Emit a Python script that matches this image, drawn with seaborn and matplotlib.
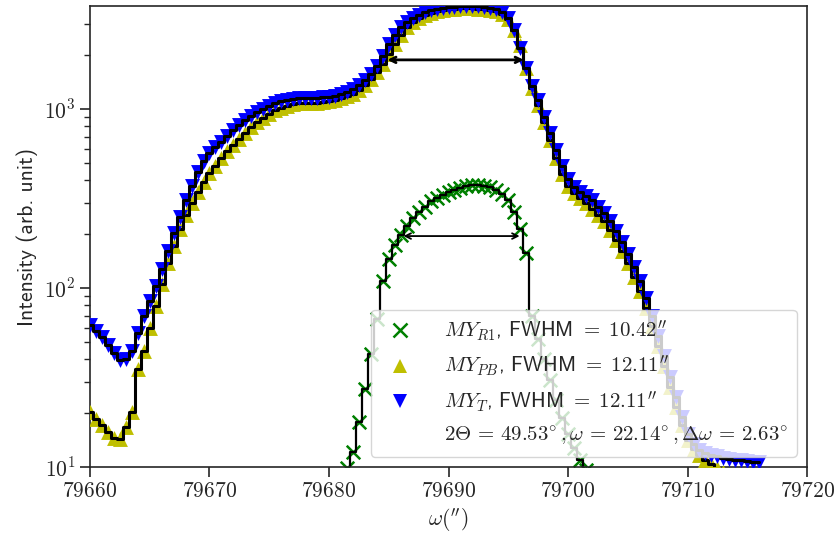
import numpy as np
import pandas as pd
import matplotlib
matplotlib.use('Agg')
import matplotlib.pyplot as plt
from matplotlib.lines import Line2D
from matplotlib.ticker import FuncFormatter, LogLocator, NullFormatter
import seaborn as sns

# omega grid (arcsec) and intensities
omega_T = [79660.0, 79660.5, 79661.0, 79661.5, 79662.0, 79662.5, 79663.0, 79663.5, 79664.0, 79664.5,
           79665.0, 79665.5, 79666.0, 79666.5, 79667.0, 79667.5, 79668.0, 79668.5, 79669.0, 79669.5,
           79670.0, 79670.5, 79671.0, 79671.5, 79672.0, 79672.5, 79673.0, 79673.5, 79674.0, 79674.5,
           79675.0, 79675.5, 79676.0, 79676.5, 79677.0, 79677.5, 79678.0, 79678.5, 79679.0, 79679.5,
           79680.0, 79680.5, 79681.0, 79681.5, 79682.0, 79682.5, 79683.0, 79683.5, 79684.0, 79684.5,
           79685.0, 79685.5, 79686.0, 79686.5, 79687.0, 79687.5, 79688.0, 79688.5, 79689.0, 79689.5,
           79690.0, 79690.5, 79691.0, 79691.5, 79692.0, 79692.5, 79693.0, 79693.5, 79694.0, 79694.5,
           79695.0, 79695.5, 79696.0, 79696.5, 79697.0, 79697.5, 79698.0, 79698.5, 79699.0, 79699.5,
           79700.0, 79700.5, 79701.0, 79701.5, 79702.0, 79702.5, 79703.0, 79703.5, 79704.0, 79704.5,
           79705.0, 79705.5, 79706.0, 79706.5, 79707.0, 79707.5, 79708.0, 79708.5, 79709.0, 79709.5,
           79710.0, 79710.5, 79711.0, 79711.5, 79712.0, 79712.5, 79713.0, 79713.5, 79714.0, 79714.5,
           79715.0, 79715.5, 79716.0]
inten_T = [61.9, 57.3, 53.0, 47.8, 43.1, 39.4, 39.9, 44.3, 55.9, 69.6,
           84.5, 102.6, 127.9, 161.4, 203.7, 250.6, 308.2, 369.3, 442.6, 510.5,
           565.9, 611.6, 652.5, 705.2, 762.1, 813.1, 867.4, 913.3, 962.0, 1000,
           1040, 1081, 1109, 1123, 1138, 1153, 1150, 1155, 1152, 1168,
           1166, 1183, 1215, 1246, 1296, 1364, 1455, 1573, 1744, 1985,
           2318, 2604, 2852, 3042, 3203, 3330, 3462, 3553, 3599, 3646,
           3694, 3700, 3741, 3738, 3745, 3740, 3694, 3646, 3599, 3462,
           3203, 2778, 2201, 1700, 1346, 1123, 902, 733, 588.5, 478.4,
           404.4, 364.6, 341.7, 324.5, 308.2, 285.1, 263.8, 237.9, 209.0, 181.3,
           155.2, 131.2, 109.5, 87.8, 69.6, 53.7, 41.5, 32.0, 24.7, 19.1,
           15.3, 13.5, 12.4, 12.0, 11.7, 11.5, 11.3, 11.1, 11.0, 10.9,
           10.8, 10.7, 10.6]

omega_PB = [79660.0, 79660.5, 79661.0, 79661.5, 79662.0, 79662.5, 79663.0, 79663.5, 79664.0, 79664.5,
            79665.0, 79665.5, 79666.0, 79666.5, 79667.0, 79667.5, 79668.0, 79668.5, 79669.0, 79669.5,
            79670.0, 79670.5, 79671.0, 79671.5, 79672.0, 79672.5, 79673.0, 79673.5, 79674.0, 79674.5,
            79675.0, 79675.5, 79676.0, 79676.5, 79677.0, 79677.5, 79678.0, 79678.5, 79679.0, 79679.5,
            79680.0, 79680.5, 79681.0, 79681.5, 79682.0, 79682.5, 79683.0, 79683.5, 79684.0, 79684.5,
            79685.0, 79685.5, 79686.0, 79686.5, 79687.0, 79687.5, 79688.0, 79688.5, 79689.0, 79689.5,
            79690.0, 79690.5, 79691.0, 79691.5, 79692.0, 79692.5, 79693.0, 79693.5, 79694.0, 79694.5,
            79695.0, 79695.5, 79696.0, 79696.5, 79697.0, 79697.5, 79698.0, 79698.5, 79699.0, 79699.5,
            79700.0, 79700.5, 79701.0, 79701.5, 79702.0, 79702.5, 79703.0, 79703.5, 79704.0, 79704.5,
            79705.0, 79705.5, 79706.0, 79706.5, 79707.0, 79707.5, 79708.0, 79708.5, 79709.0, 79709.5,
            79710.0, 79710.5, 79711.0, 79711.5, 79712.0, 79712.5, 79713.0]
inten_PB = [20.4, 18.6, 17.2, 15.7, 14.6, 14.4, 16.8, 20.4, 35.1, 44.3,
            59.6, 79.2, 105.3, 138.2, 172.2, 214.6, 257.1, 296.5, 341.7, 388.9,
            436.9, 478.4, 530.5, 580.8, 627.8, 678.5, 733.3, 792.6, 845.3, 890.3,
            937.4, 987.2, 1013, 1040, 1067, 1081, 1081, 1078, 1082, 1095,
            1109, 1123, 1153, 1183, 1214, 1278, 1364, 1474, 1614, 1789,
            2037, 2318, 2604, 2852, 3042, 3203, 3330, 3418, 3508, 3553,
            3599, 3600, 3646, 3650, 3646, 3640, 3599, 3590, 3508, 3375,
            3162, 2778, 2288, 1700, 1312, 1053, 845, 669.7, 530.5, 431.3,
            369.3, 337.4, 316.2, 296.5, 277.8, 257.1, 237.9, 211.8, 186.1, 161.4,
            138.2, 115.3, 96.2, 77.2, 61.2, 47.2, 36.5, 28.1, 21.7, 17.2,
            14.2, 12.6, 11.7, 10.9, 10.4, 9.9, 9.4]

omega_R1 = [79681.5, 79682.0, 79682.5, 79683.0, 79683.5, 79684.0, 79684.5, 79685.0, 79685.5, 79686.0,
            79686.5, 79687.0, 79687.5, 79688.0, 79688.5, 79689.0, 79689.5, 79690.0, 79690.5, 79691.0,
            79691.5, 79692.0, 79692.5, 79693.0, 79693.5, 79694.0, 79694.5, 79695.0, 79695.5, 79696.0,
            79696.5, 79697.0, 79697.5, 79698.0, 79698.5, 79699.0, 79699.5, 79700.0, 79700.5, 79701.0,
            79701.5]
inten_R1 = [9.9, 12.1, 17.9, 27.4, 42.6, 67.0, 109.5, 145.5, 174.4, 198.5,
            223.0, 247.4, 267.3, 285.1, 304.2, 316.2, 328.8, 341.7, 350.7, 359.9,
            369.3, 374.1, 374.5, 369.0, 364.6, 350.7, 333.1, 308.2, 267.3, 214.6,
            157.3, 69.6, 51.7, 39.9, 30.8, 23.8, 18.8, 15.3, 12.8, 10.9,
            9.6]

# FWHM arrows: (centre, width, height of half maximum)
fwhm_T = [79690.59, 12.11, 1880]
fwhm_R1 = [79691.09, 10.42, 195]

labels = [r"$MY_{R1}$, FWHM $=\;10.42''$",
          r"$MY_{PB}$, FWHM $=\;12.11''$",
          r"$MY_{T}$, FWHM $=\;12.11''$",
          r"$2\Theta\,=\,49.53^{\!\circ}, \omega\,=\,22.14^{\!\circ}, \Delta\omega\,=\,2.63^{\!\circ}$"]

sns.set_style('ticks')
plt.rcParams['mathtext.fontset'] = 'cm'
plt.rcParams['font.family'] = ['cmss10', 'DejaVu Sans']
plt.rcParams['axes.formatter.use_mathtext'] = True
plt.rcParams['axes.unicode_minus'] = False

fs = 15.5
fig, ax = plt.subplots(figsize=(8.37, 5.44), dpi=100)
fig.subplots_adjust(left=0.1075, right=0.9642, bottom=0.1415, top=0.989)
ax.set_yscale('log')

df_R1 = pd.DataFrame({'omega': omega_R1, 'I': inten_R1})
df_PB = pd.DataFrame({'omega': omega_PB, 'I': inten_PB})
df_T = pd.DataFrame({'omega': omega_T, 'I': inten_T})

# R1 sample
sns.scatterplot(data=df_R1, x='omega', y='I', marker='x', color='g', s=95,
                linewidth=1.8, ax=ax, zorder=1)
sns.lineplot(data=df_R1, x='omega', y='I', color='k', lw=1.6, drawstyle='steps-mid',
             estimator=None, ax=ax, zorder=2)
# PB sample
sns.scatterplot(data=df_PB, x='omega', y='I', marker='^', color='y', s=115,
                linewidth=0, ax=ax, zorder=3)
sns.lineplot(data=df_PB, x='omega', y='I', color='k', lw=2.2, drawstyle='steps-mid',
             estimator=None, ax=ax, zorder=4)
# T sample
sns.scatterplot(data=df_T, x='omega', y='I', marker='v', color='b', s=115,
                linewidth=0, ax=ax, zorder=5)
sns.lineplot(data=df_T, x='omega', y='I', color='k', lw=2.2, drawstyle='steps-mid',
             estimator=None, ax=ax, zorder=6)

# FWHM arrows
for (c, w, h), lw in [(fwhm_T, 2.0), (fwhm_R1, 1.3)]:
    ax.annotate('', xy=(c + w / 2, h), xytext=(c - w / 2, h),
                arrowprops=dict(arrowstyle='<->', color='k', lw=lw, shrinkA=3, shrinkB=3),
                zorder=7)

ax.set_xlim(79660, 79720)
ax.set_ylim(10, 3760)
ax.set_xticks([79660, 79670, 79680, 79690, 79700, 79710, 79720])
ax.xaxis.set_major_formatter(FuncFormatter(lambda v, p: f'${v:.0f}$'))
ax.yaxis.set_major_locator(LogLocator(base=10))
ax.yaxis.set_major_formatter(FuncFormatter(lambda v, p: f'$10^{{{int(round(np.log10(v)))}}}$'))
ax.yaxis.set_minor_formatter(NullFormatter())
ax.tick_params(axis='both', which='major', labelsize=fs, length=7, width=1.2)
ax.tick_params(axis='y', which='minor', length=4, width=1.0)
for sp in ax.spines.values():
    sp.set_linewidth(1.2)

ax.set_xlabel(r"$\omega({}^{\prime\prime})$", fontsize=fs)
ax.set_ylabel('Intensity (arb. unit)', fontsize=fs)

handles = [Line2D([], [], ls='none', marker='x', color='g', ms=9.5, mew=1.8),
           Line2D([], [], ls='none', marker='^', color='y', ms=10.5, mew=0),
           Line2D([], [], ls='none', marker='v', color='b', ms=10.5, mew=0),
           Line2D([], [], ls='none', marker='None')]
leg = ax.legend(handles, labels, loc='lower right', fontsize=15, handletextpad=1.1)
leg.set_zorder(10)

fig.savefig('out.png', dpi=100)
